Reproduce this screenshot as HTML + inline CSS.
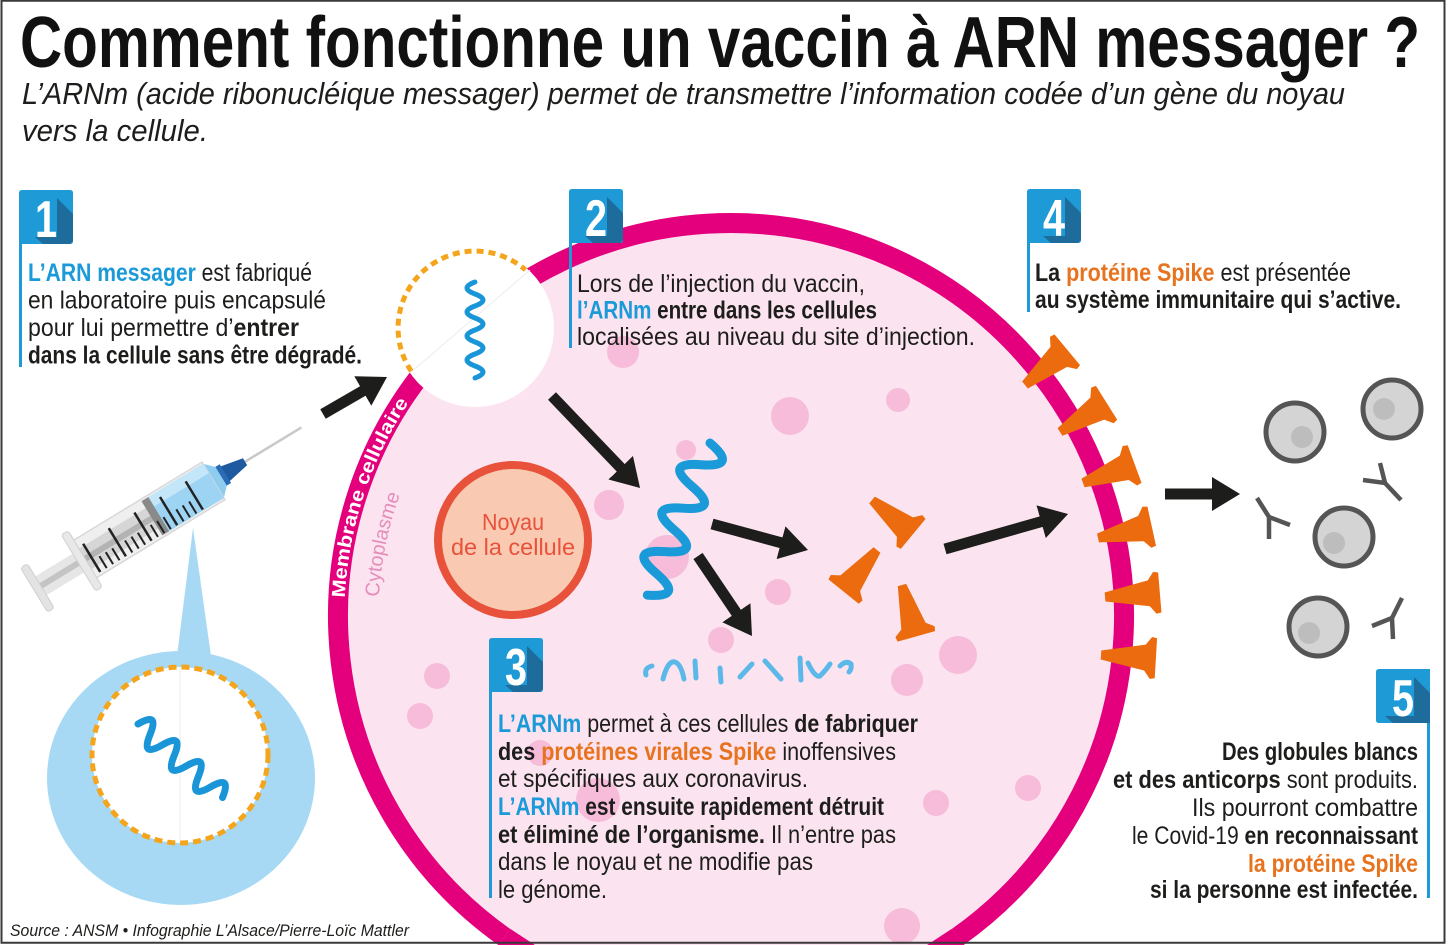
<!DOCTYPE html>
<html><head><meta charset="utf-8">
<style>
html,body{margin:0;padding:0;background:#fff;width:1449px;height:945px;overflow:hidden;}
svg{display:block;overflow:hidden;}
.t{font-family:"Liberation Sans",Arial,sans-serif;font-size:25px;fill:#1d1d1b;}
.b{font-weight:bold;}
.bl{fill:#1a9ad8;font-weight:bold;}
.or{fill:#e8731e;font-weight:bold;}
.dg{font-family:"Liberation Sans",Arial,sans-serif;font-size:52px;font-weight:bold;fill:#fff;}
</style></head>
<body>
<svg width="1449" height="945" viewBox="0 0 1449 945" xmlns="http://www.w3.org/2000/svg">
<defs>
<marker id="ah" viewBox="0 -17 28 34" refX="8" refY="0" markerWidth="28" markerHeight="34" markerUnits="userSpaceOnUse" orient="auto"><path d="M0,-17 L28,0 L0,17 Z" fill="#1d1d1b"/></marker>
<path id="spk" d="M0,-4.5 L44,-13 L50,-21 L55,-20 L55,20 L50,21 L44,13 L0,4.5 Z"/>
<path id="mp" d="M344.9,597.8 A386.5,386.5 0 0 1 537.75,281.3"/>
<path id="cp" d="M379,596.9 A352.5,352.5 0 0 1 504.4,346"/>
<clipPath id="pg"><rect width="1449" height="945"/></clipPath>
</defs>
<g clip-path="url(#pg)">
<rect width="1449" height="945" fill="#fff"/>

<!-- Title -->
<text x="20" y="67" font-family="Liberation Sans,Arial,sans-serif" font-size="72" font-weight="bold" fill="#111" textLength="1400" lengthAdjust="spacingAndGlyphs">Comment fonctionne un vaccin à ARN messager ?</text>
<text x="22" y="104" font-family="Liberation Sans,Arial,sans-serif" font-size="31" font-style="italic" fill="#1d1d1b" textLength="1323" lengthAdjust="spacingAndGlyphs">L’ARNm (acide ribonucléique messager) permet de transmettre l’information codée d’un gène du noyau</text>
<text x="22" y="141" font-family="Liberation Sans,Arial,sans-serif" font-size="31" font-style="italic" fill="#1d1d1b" textLength="186" lengthAdjust="spacingAndGlyphs">vers la cellule.</text>

<!-- Callout -->
<polygon points="193,528 177,656 211,656" fill="#a7d9f5"/>
<ellipse cx="181" cy="778" rx="134" ry="127" fill="#a7d9f5"/>
<circle cx="180" cy="755" r="88" fill="#fff"/>
<line x1="180" y1="667" x2="180" y2="843" stroke="#eeeeee" stroke-width="1"/>
<circle cx="180" cy="755" r="88" fill="none" stroke="#f4a51c" stroke-width="5" stroke-dasharray="8 5"/>
<path d="M0,0 q8,-24 16,0 t16,0 t16,0 t16,0 t16,0 t16,0 t16,0" transform="translate(138,724) rotate(41)" fill="none" stroke="#1a96d8" stroke-width="7" stroke-linecap="round"/>

<!-- Syringe -->
<g transform="translate(34,590) rotate(-31.3)">
  <line x1="245" y1="0" x2="313" y2="0" stroke="#c9c9c9" stroke-width="2.5"/>
  <polygon points="222,-9 247,-4 247,4 222,9" fill="#1e5aa0"/>
  <rect x="217" y="-11" width="7" height="22" fill="#2a6bb5"/>
  <polygon points="208,-22 219,-11 219,11 208,22" fill="#8fcdf0"/>
  <rect x="58" y="-22" width="152" height="44" fill="#efefef" stroke="#d8d8d8" stroke-width="1.5"/>
  <rect x="145" y="-20" width="65" height="40" fill="#9ed4f3"/>
  <rect x="145" y="-20" width="65" height="11" fill="#c4e6f9"/>
  <rect x="58" y="-12" width="84" height="24" fill="#d6d6d6"/>
  <rect x="58" y="-3" width="84" height="6" fill="#b3b3b3"/>
  <rect x="138" y="-20" width="8" height="40" fill="#8a8a8a"/>
  <rect x="6" y="-11" width="52" height="22" fill="#e6e6e6"/>
  <rect x="6" y="-3" width="52" height="6" fill="#c4c4c4"/>
  <rect x="0" y="-26" width="8" height="52" rx="3" fill="#e3e3e3" stroke="#d0d0d0"/>
  <rect x="52" y="-33" width="8" height="66" rx="3" fill="#e8e8e8" stroke="#d0d0d0"/>
  <g stroke="#222" stroke-width="2.5">
    <line x1="66" y1="-14" x2="66" y2="19"/><line x1="96" y1="-14" x2="96" y2="19"/>
    <line x1="126" y1="-14" x2="126" y2="19"/><line x1="156" y1="-14" x2="156" y2="19"/>
    <line x1="186" y1="-14" x2="186" y2="19"/>
  </g>
  <g stroke="#222" stroke-width="2">
    <line x1="73.5" y1="5" x2="73.5" y2="19"/><line x1="81" y1="5" x2="81" y2="19"/><line x1="88.5" y1="5" x2="88.5" y2="19"/>
    <line x1="103.5" y1="5" x2="103.5" y2="19"/><line x1="111" y1="5" x2="111" y2="19"/><line x1="118.5" y1="5" x2="118.5" y2="19"/>
    <line x1="133.5" y1="5" x2="133.5" y2="19"/><line x1="141" y1="5" x2="141" y2="19"/><line x1="148.5" y1="5" x2="148.5" y2="19"/>
    <line x1="163.5" y1="5" x2="163.5" y2="19"/><line x1="171" y1="5" x2="171" y2="19"/><line x1="178.5" y1="5" x2="178.5" y2="19"/>
  </g>
</g>

<!-- Cell (trimmed at bottom edge) -->
<path d="M516,945 A393,393 0 1 1 946,945 Z" fill="#fbe4f0"/>
<g fill="#f6bcd9">
  <circle cx="623" cy="352" r="16"/><circle cx="790" cy="416" r="19"/><circle cx="898" cy="400" r="12"/>
  <circle cx="609" cy="505" r="15"/><circle cx="686" cy="450" r="10"/><circle cx="667" cy="557" r="22"/>
  <circle cx="778" cy="592" r="13"/><circle cx="721" cy="640" r="13"/><circle cx="437" cy="676" r="13"/>
  <circle cx="420" cy="716" r="13"/><circle cx="958" cy="655" r="19"/><circle cx="907" cy="680" r="16"/>
  <circle cx="540" cy="753" r="13"/><circle cx="598" cy="800" r="22"/><circle cx="1028" cy="788" r="13"/>
  <circle cx="936" cy="803" r="13"/><circle cx="902" cy="926" r="18"/>
</g>
<path d="M504.3,937 A393,393 0 1 1 957.7,937" fill="none" stroke="#e4007c" stroke-width="20"/>
<polygon points="498.5,945 510.1,928.8 534.9,945" fill="#e4007c"/>
<polygon points="963.5,945 951.9,928.8 927.1,945" fill="#e4007c"/>
<text font-family="Liberation Sans,Arial,sans-serif" font-size="19" font-weight="bold" fill="#fff"><textPath href="#mp" textLength="208" lengthAdjust="spacingAndGlyphs">Membrane cellulaire</textPath></text>
<text font-family="Liberation Sans,Arial,sans-serif" font-size="20" fill="#e58dbb"><textPath href="#cp" textLength="105" lengthAdjust="spacingAndGlyphs">Cytoplasme</textPath></text>

<!-- Nucleus -->
<circle cx="513" cy="540" r="75" fill="#f9c9b2" stroke="#e8513a" stroke-width="8"/>
<text x="482" y="530" font-family="Liberation Sans,Arial,sans-serif" font-size="23" fill="#e8513a" textLength="62" lengthAdjust="spacingAndGlyphs">Noyau</text>
<text x="451" y="555" font-family="Liberation Sans,Arial,sans-serif" font-size="23" fill="#e8513a" textLength="124" lengthAdjust="spacingAndGlyphs">de la cellule</text>

<!-- Vesicle -->
<circle cx="475" cy="328" r="79" fill="#fff"/>
<line x1="410" y1="373" x2="530" y2="270" stroke="#ececec" stroke-width="1"/>
<path d="M411.2,371.1 A77,77 0 0 1 525.5,269.9" fill="none" stroke="#f4a51c" stroke-width="5" stroke-dasharray="7 5"/>
<path d="M475,282 q-16,6 0,12 t0,12 t0,12 t0,12 t0,12 t0,12 t0,12 t0,12" fill="none" stroke="#1a96d8" stroke-width="5" stroke-linecap="round"/>

<!-- Arrows -->
<g stroke="#1d1d1b" stroke-width="11" marker-end="url(#ah)">
  <line x1="323" y1="414" x2="369.7" y2="387"/>
  <line x1="552" y1="396" x2="626.2" y2="473.5"/>
  <line x1="712" y1="524" x2="788.7" y2="544.8"/>
  <line x1="698" y1="556" x2="740.8" y2="619.4"/>
  <line x1="945" y1="549" x2="1048.8" y2="519.5"/>
  <line x1="1165" y1="494" x2="1220" y2="494"/>
</g>

<!-- Main mRNA squiggle -->
<path d="M0,0 q11.75,-36 23.5,0 t23.5,0 t23.5,0 t23.5,0 t23.5,0 t23.5,0 t23.5,0" transform="translate(710,443) rotate(112.4)" fill="none" stroke="#1a9ad8" stroke-width="9" stroke-linecap="round"/>

<!-- Fragments -->
<g fill="none" stroke="#5cb8e8" stroke-width="5" stroke-linecap="round">
  <path d="M652,666 q-8,2 -6,9"/>
  <path d="M663,679 Q668,660 675,662 Q681,664 684,679"/>
  <line x1="695" y1="661" x2="696" y2="678"/>
  <line x1="720" y1="668" x2="721" y2="682"/>
  <line x1="740" y1="677" x2="752" y2="664"/>
  <line x1="765" y1="661" x2="781" y2="679"/>
  <line x1="800" y1="658" x2="801" y2="680"/>
  <path d="M808,663 Q815,678 820,676 Q826,670 830,664"/>
  <path d="M840,666 Q846,660 851,664 Q852,669 849,672"/>
</g>

<!-- Spikes -->
<g fill="#ec6b0e">
  <use href="#spk" transform="translate(1025,385) rotate(-39.8)"/>
  <use href="#spk" transform="translate(1060,432) rotate(-32.1)"/>
  <use href="#spk" transform="translate(1083,483) rotate(-20.2)"/>
  <use href="#spk" transform="translate(1098,538) rotate(-12.4)"/>
  <use href="#spk" transform="translate(1105,597) rotate(-4.8)"/>
  <use href="#spk" transform="translate(1101,655) rotate(3.4)"/>
  <use href="#spk" transform="translate(872,500) rotate(39.5) scale(0.97)"/>
  <use href="#spk" transform="translate(877,550) rotate(128.8) scale(0.97)"/>
  <use href="#spk" transform="translate(902,585) rotate(74.4) scale(0.97)"/>
</g>

<!-- White cells -->
<g stroke="#555" stroke-width="5" fill="#d4d4d4">
  <circle cx="1295" cy="432" r="29"/><circle cx="1392" cy="409" r="29"/>
  <circle cx="1344" cy="537" r="29"/><circle cx="1318" cy="627" r="29"/>
</g>
<g fill="#bdbdbd">
  <circle cx="1302" cy="437" r="11"/><circle cx="1384" cy="409" r="11"/>
  <circle cx="1334" cy="543" r="11"/><circle cx="1309" cy="633" r="11"/>
</g>
<g stroke="#555" stroke-width="4.5" fill="none">
  <path d="M1257,498 L1269,517 L1290,525 M1269,517 L1269,539"/>
  <path d="M1380,463 L1385,483 L1363,480 M1385,483 L1401,500"/>
  <path d="M1402,598 L1392,618 L1372,626 M1392,618 L1393,639"/>
</g>

<!-- Flags -->
<g fill="#1e9ad6">
  <path d="M19,193 Q19,190 22,190 H70 Q73,190 73,193 V241 Q73,244 70,244 H19 Z"/><rect x="19" y="244" width="3" height="123"/>
  <path d="M569,192 Q569,189 572,189 H620 Q623,189 623,192 V240 Q623,243 620,243 H569 Z"/><rect x="569" y="243" width="3" height="105"/>
  <path d="M1027,192 Q1027,189 1030,189 H1078 Q1081,189 1081,192 V240 Q1081,243 1078,243 H1027 Z"/><rect x="1027" y="243" width="3" height="69"/>
  <path d="M489,641 Q489,638 492,638 H540 Q543,638 543,641 V689 Q543,692 540,692 H489 Z"/><rect x="489" y="692" width="3" height="206"/>
  <path d="M1376,672 Q1376,669 1379,669 H1430 V723 H1379 Q1376,723 1376,720 Z"/><rect x="1427" y="723" width="3" height="175"/>
</g>
<g fill="#1d6c9c">
  <polygon points="57,198 73,214 73,241 70,244 43,244 35,237 57,237"/>
  <polygon points="607,197 623,213 623,240 620,243 593,243 585,236 607,236"/>
  <polygon points="1065,197 1081,213 1081,240 1078,243 1051,243 1043,236 1065,236"/>
  <polygon points="527,646 543,662 543,689 540,692 513,692 505,685 527,685"/>
  <polygon points="1414,677 1430,693 1430,723 1393,723 1385,716 1414,716"/>
</g>
<text class="dg" x="35" y="237" textLength="22" lengthAdjust="spacingAndGlyphs">1</text>
<text class="dg" x="585" y="236" textLength="22" lengthAdjust="spacingAndGlyphs">2</text>
<text class="dg" x="1043" y="236" textLength="22" lengthAdjust="spacingAndGlyphs">4</text>
<text class="dg" x="505" y="685" textLength="22" lengthAdjust="spacingAndGlyphs">3</text>
<text class="dg" x="1392" y="716" textLength="22" lengthAdjust="spacingAndGlyphs">5</text>

<!-- Step 1 text -->
<text class="t" x="28" y="281" textLength="284" lengthAdjust="spacingAndGlyphs"><tspan class="bl">L’ARN messager</tspan> est fabriqué</text>
<text class="t" x="28" y="308.5" textLength="298" lengthAdjust="spacingAndGlyphs">en laboratoire puis encapsulé</text>
<text class="t" x="28" y="336" textLength="271" lengthAdjust="spacingAndGlyphs">pour lui permettre d’<tspan class="b">entrer</tspan></text>
<text class="t b" x="28" y="363.5" textLength="334" lengthAdjust="spacingAndGlyphs">dans la cellule sans être dégradé.</text>

<!-- Step 2 text -->
<text class="t" x="577" y="292" textLength="288" lengthAdjust="spacingAndGlyphs">Lors de l’injection du vaccin,</text>
<text class="t" x="577" y="318.5" textLength="300" lengthAdjust="spacingAndGlyphs"><tspan class="bl">l’ARNm</tspan><tspan class="b"> entre dans les cellules</tspan></text>
<text class="t" x="577" y="345" textLength="398" lengthAdjust="spacingAndGlyphs">localisées au niveau du site d’injection.</text>

<!-- Step 4 text -->
<text class="t" x="1035" y="281" textLength="316" lengthAdjust="spacingAndGlyphs"><tspan class="b">La </tspan><tspan class="or">protéine Spike</tspan> est présentée</text>
<text class="t b" x="1035" y="308" textLength="366" lengthAdjust="spacingAndGlyphs">au système immunitaire qui s’active.</text>

<!-- Step 3 text -->
<text class="t" x="498" y="732" textLength="420" lengthAdjust="spacingAndGlyphs"><tspan class="bl">L’ARNm</tspan> permet à ces cellules <tspan class="b">de fabriquer</tspan></text>
<text class="t" x="498" y="760" textLength="398" lengthAdjust="spacingAndGlyphs"><tspan class="b">des </tspan><tspan class="or">protéines virales Spike</tspan> inoffensives</text>
<text class="t" x="498" y="787" textLength="310" lengthAdjust="spacingAndGlyphs">et spécifiques aux coronavirus.</text>
<text class="t" x="498" y="815" textLength="386" lengthAdjust="spacingAndGlyphs"><tspan class="bl">L’ARNm</tspan><tspan class="b"> est ensuite rapidement détruit</tspan></text>
<text class="t" x="498" y="843" textLength="398" lengthAdjust="spacingAndGlyphs"><tspan class="b">et éliminé de l’organisme.</tspan> Il n’entre pas</text>
<text class="t" x="498" y="870" textLength="315" lengthAdjust="spacingAndGlyphs">dans le noyau et ne modifie pas</text>
<text class="t" x="498" y="898" textLength="109" lengthAdjust="spacingAndGlyphs">le génome.</text>

<!-- Step 5 text -->
<text class="t b" x="1222" y="760" textLength="196" lengthAdjust="spacingAndGlyphs">Des globules blancs</text>
<text class="t" x="1113" y="788" textLength="305" lengthAdjust="spacingAndGlyphs"><tspan class="b">et des anticorps</tspan> sont produits.</text>
<text class="t" x="1192" y="816" textLength="226" lengthAdjust="spacingAndGlyphs">Ils pourront combattre</text>
<text class="t" x="1132" y="844" textLength="286" lengthAdjust="spacingAndGlyphs">le Covid-19 <tspan class="b">en reconnaissant</tspan></text>
<text class="t or" x="1248" y="872" textLength="170" lengthAdjust="spacingAndGlyphs">la protéine Spike</text>
<text class="t b" x="1150" y="898" textLength="268" lengthAdjust="spacingAndGlyphs">si la personne est infectée.</text>

<!-- Source -->
<text x="10" y="936" font-family="Liberation Sans,Arial,sans-serif" font-size="17" font-style="italic" fill="#1d1d1b" textLength="399" lengthAdjust="spacingAndGlyphs">Source : ANSM • Infographie L’Alsace/Pierre-Loïc Mattler</text>

<!-- Frame -->
<rect x="1.5" y="0.75" width="1443" height="942" fill="none" stroke="#3a3a3a" stroke-width="2"/>
</g>
</svg>
</body></html>
